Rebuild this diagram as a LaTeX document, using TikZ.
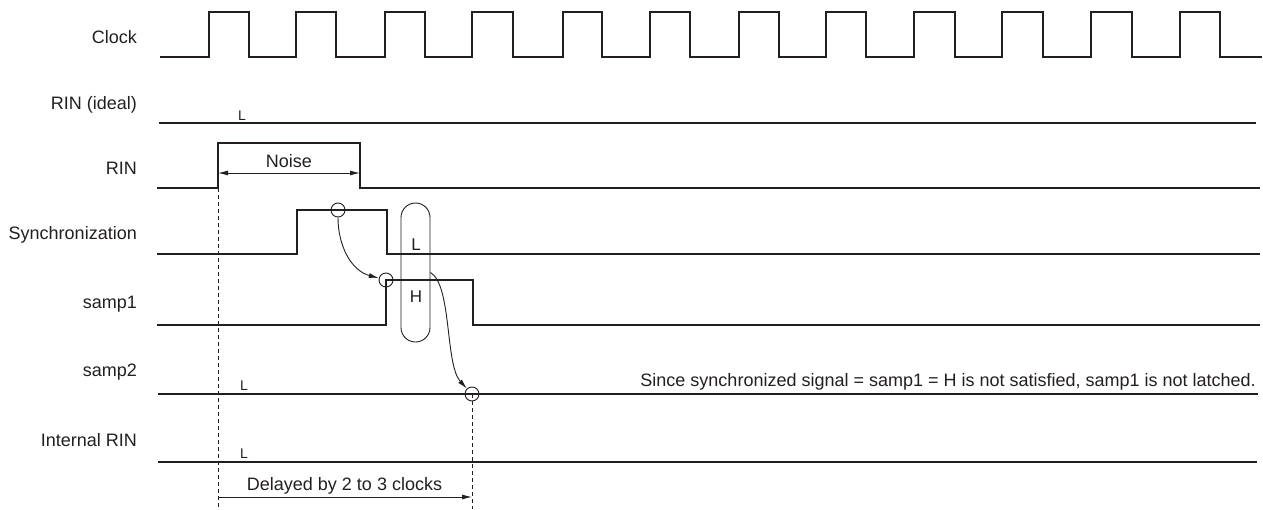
\documentclass[tikz,border=0pt]{standalone}
\usepackage{fontspec}
\setmainfont{Liberation Sans}
\usetikzlibrary{arrows.meta}
\definecolor{ink}{HTML}{231F20}
\begin{document}
\begin{tikzpicture}[x=1pt,y=-1pt,
  sig/.style={line width=1.6pt, line join=miter, draw=ink},
  thinl/.style={line width=0.9pt, draw=ink},
  lbl/.style={anchor=base east, font=\fontsize{18}{20}\selectfont, inner sep=0, text=ink},
  lv/.style={anchor=base west, font=\fontsize{14}{16}\selectfont, inner sep=0, text=ink},
  txt/.style={font=\fontsize{18}{20}\selectfont, inner sep=0, text=ink},
  ring/.style={circle, draw=ink, line width=0.9pt, minimum size=14pt, inner sep=0},
  arr/.style={-{Latex[length=10pt,width=5pt]}, line width=0.9pt, draw=ink, fill=ink},
  darr/.style={{Latex[length=10pt,width=5pt]}-{Latex[length=10pt,width=5pt]}, line width=0.9pt, draw=ink},
  rarr/.style={-{Latex[length=10pt,width=5pt]}, line width=0.9pt, draw=ink},
  dline/.style={line width=0.8pt, draw=ink, dash pattern=on 4pt off 3pt},
]
\useasboundingbox (0,0) rectangle (1263,509);

% signal names
\node[lbl] (lclk) at (137,43) {Clock};
\node[lbl] (lideal) at (137,109) {RIN (ideal)};
\node[lbl] (lrin) at (137,174) {RIN};
\node[lbl] (lsync) at (137,239) {Synchronization};
\node[lbl] (ls1) at (137,308) {samp1};
\node[lbl] (ls2) at (137,376) {samp2};
\node[lbl] (lint) at (137,446) {Internal RIN};

% clock
\draw[sig] (160,57) -| (209,12) -| (249,57) -| (296,12) -| (336,57) -| (385,12) -| (425,57)
  -| (472,12) -| (513,57) -| (563,12) -| (602,57) -| (650,12) -| (690,57) -| (739,12)
  -| (779,57) -| (826,12) -| (866,57) -| (914,12) -| (955,57) -| (1002,12) -| (1043,57)
  -| (1091,12) -| (1132,57) -| (1180,12) -| (1220,57) -- (1262,57);

% RIN (ideal)
\draw[sig] (159,123) -- (1256,123);
\node[lv] (Lideal) at (238,120) {L};

% RIN
\draw[sig] (157,188) -| (218,143) -| (360,188) -- (1260,188);
\coordinate (nA) at (218,173);
\coordinate (nB) at (360,173);
\draw[darr] (nA) -- (nB);
\node[txt, anchor=base] (noise) at (289,167) {Noise};

% Synchronization
\draw[sig] (157,254) -| (297,210) -| (387,254) -- (1260,254);

% samp1
\draw[sig] (157,325) -| (386,280) -| (473,325) -- (1260,325);

% samp2
\draw[sig] (158,394) -- (1258,394);
\node[lv] (Ls2) at (240,390) {L};
\node[txt, anchor=base east] (note) at (1256,386) {Since synchronized signal = samp1 = H is not satisfied, samp1 is not latched.};

% Internal RIN
\draw[sig] (158,462) -- (1257,462);
\node[lv] (Lint) at (240,458) {L};

% markers
\node[ring] (c1) at (338,210) {};
\node[ring] (c2) at (386,280) {};
\node[ring] (c3) at (472,394) {};
\node[draw=ink, line width=0.9pt, minimum width=29pt, minimum height=139pt, rounded corners=14.5pt, inner sep=0] (ov) at (415.5,272.5) {};
\node[txt, font=\fontsize{17}{19}\selectfont] (ovL) at (416,245) {L};
\node[txt, font=\fontsize{17}{19}\selectfont] (ovH) at (416,297) {H};

\draw[rarr] (c1.south) to[out=-90, in=165] (c2);
\draw[rarr] (ov.east) .. controls (452,285) and (445,365) .. (c3);

% dashed guides
\coordinate (d1a) at (218,188);
\coordinate (d1b) at (218,509);
\coordinate (d2b) at (472,509);
\draw[dline] (d1a) -- (d1b);
\draw[dline] (c3.center) -- (d2b);

% delay
\coordinate (dA) at (218,497);
\coordinate (dB) at (472,497);
\draw[rarr] (dA) -- (dB);
\node[txt, anchor=base] (delay) at (344.5,490) {Delayed by 2 to 3 clocks};
\end{tikzpicture}
\end{document}
